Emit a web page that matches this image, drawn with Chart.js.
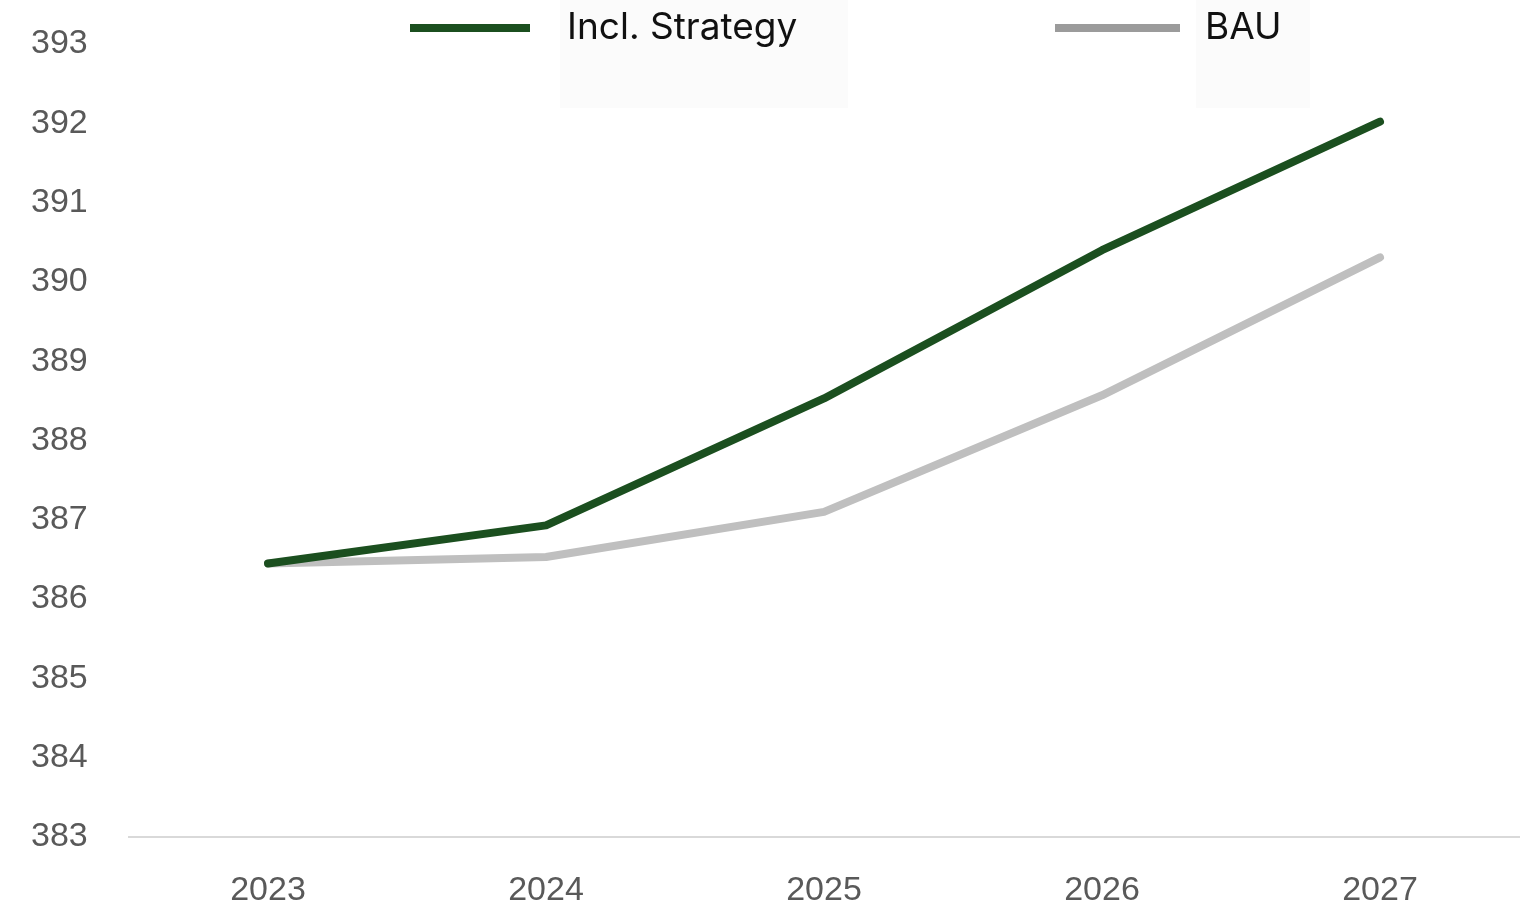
<!DOCTYPE html>
<html>
<head>
<meta charset="utf-8">
<script src="https://cdn.jsdelivr.net/npm/chart.js@4/dist/chart.umd.min.js"></script>
<style>
  html, body { margin: 0; padding: 0; background: #ffffff; }
  #wrap { width: 1537px; height: 908px; position: relative; }
</style>
</head>
<body>
<div id="wrap"><canvas id="chart" width="1537" height="908"></canvas></div>
<script>
// Years on the horizontal axis
const years = ['2023', '2024', '2025', '2026', '2027'];
// Projection including the strategy
const inclStrategy = [386.45, 386.93, 388.53, 390.40, 392.02];
// Business-as-usual projection
const bau = [386.45, 386.53, 387.10, 388.57, 390.31];
// Y axis range and step
const yMin = 383;
const yMax = 393;
const yStep = 1;

const seriesNames = ['Incl. Strategy', 'BAU'];
const lineColors = ['#1b4f1f', '#bfbfbf'];
const legendColors = ['#1b4f1f', '#9b9b9b'];

// Legend drawn as a short thick stroke followed by the series name
const lineLegend = {
  id: 'lineLegend',
  afterDraw(chart, args, opts) {
    const ctx = chart.ctx;
    ctx.save();
    chart.data.datasets.forEach((ds, i) => {
      const item = opts.items[i];
      // faint panel behind the label
      ctx.fillStyle = '#fbfbfb';
      ctx.fillRect(item.panelX, 0, item.panelW, 108);
      ctx.strokeStyle = opts.colors[i];
      ctx.lineWidth = 8;
      ctx.lineCap = 'butt';
      ctx.beginPath();
      ctx.moveTo(item.x, opts.y);
      ctx.lineTo(item.x + item.w, opts.y);
      ctx.stroke();
      ctx.fillStyle = '#111111';
      ctx.font = opts.font;
      ctx.textBaseline = 'middle';
      ctx.textAlign = 'left';
      ctx.fillText(ds.label, item.textX, opts.y);
    });
    ctx.restore();
  }
};

new Chart(document.getElementById('chart'), {
  type: 'line',
  data: {
    labels: years,
    datasets: [
      {
        label: seriesNames[0],
        data: inclStrategy,
        borderColor: lineColors[0],
        backgroundColor: lineColors[0],
        borderWidth: 8,
        pointRadius: 0,
        tension: 0,
        borderCapStyle: 'round',
        borderJoinStyle: 'round'
      },
      {
        label: seriesNames[1],
        data: bau,
        borderColor: lineColors[1],
        backgroundColor: lineColors[1],
        borderWidth: 8,
        pointRadius: 0,
        tension: 0,
        borderCapStyle: 'round',
        borderJoinStyle: 'round'
      }
    ]
  },
  options: {
    responsive: false,
    animation: false,
    layout: { padding: { top: 44, right: 18, left: 31, bottom: 0 } },
    plugins: {
      legend: { display: false },
      tooltip: { enabled: false },
      lineLegend: {
        y: 28,
        font: '37px Inter, "Liberation Sans", sans-serif',
        colors: legendColors,
        items: [
          { x: 410, w: 120, textX: 567, panelX: 560, panelW: 288 },
          { x: 1055, w: 125, textX: 1205, panelX: 1196, panelW: 114 }
        ]
      }
    },
    scales: {
      x: {
        offset: true,
        grid: { display: false, drawTicks: false },
        border: { display: true, color: '#d9d9d9', width: 2 },
        ticks: {
          color: '#595959',
          font: { family: '"Liberation Sans", Arial, sans-serif', size: 34 },
          padding: 33
        },
        afterFit(scale) { scale.height = 71; }
      },
      y: {
        min: yMin,
        max: yMax,
        grid: { display: false, drawTicks: false },
        border: { display: false },
        ticks: {
          stepSize: yStep,
          color: '#595959',
          font: { family: '"Liberation Sans", Arial, sans-serif', size: 34 },
          crossAlign: 'far',
          padding: 0
        },
        afterFit(scale) { scale.width = 98; }
      }
    }
  },
  plugins: [lineLegend]
});
</script>
</body>
</html>
